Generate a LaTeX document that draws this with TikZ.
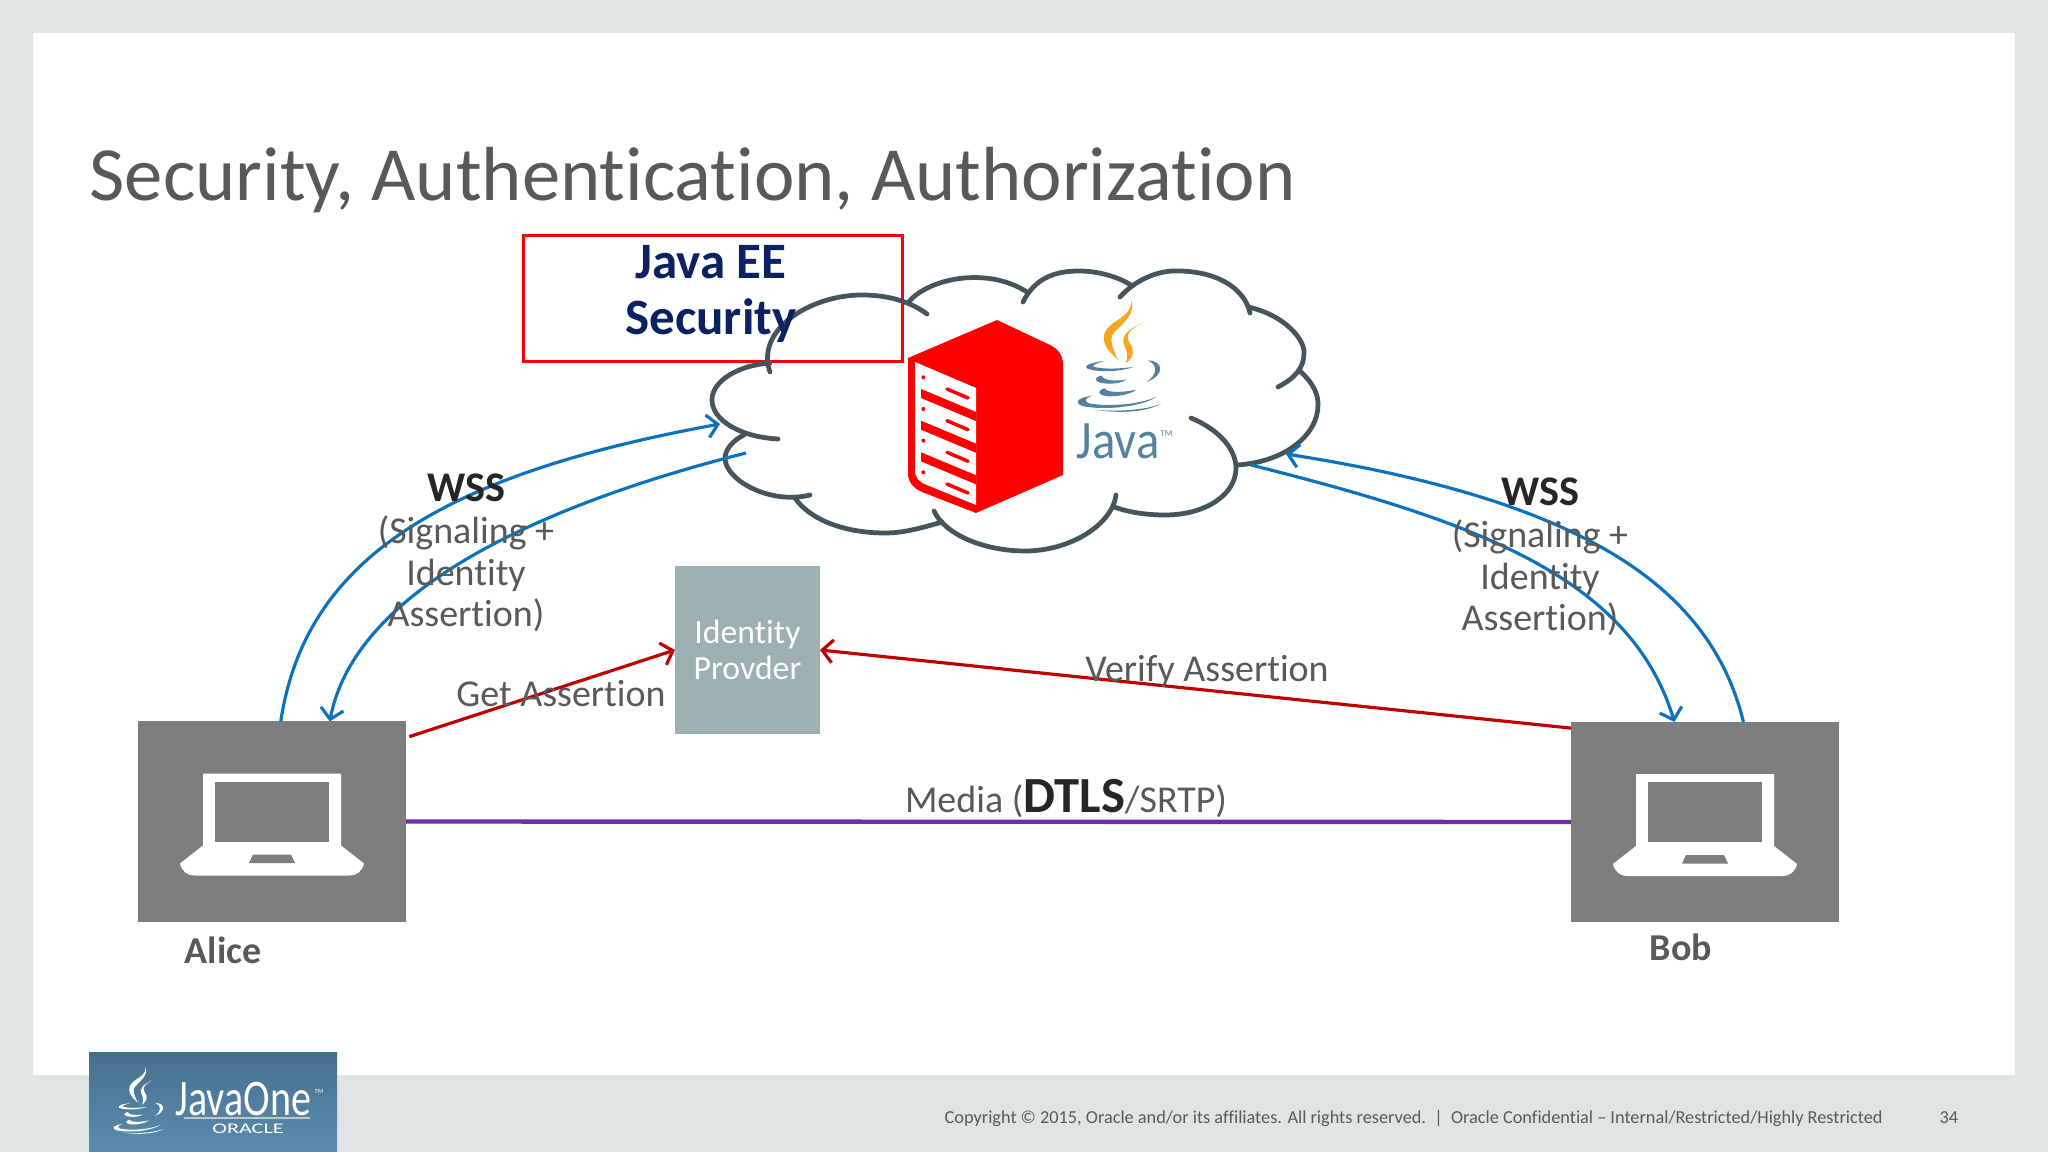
\documentclass[tikz,border=0pt]{standalone}
\usepackage{fontspec}
\setmainfont{Carlito}[Ligatures=NoCommon]
\usetikzlibrary{arrows.meta}
\definecolor{slideBg}{HTML}{DFE5E4}
\definecolor{boxGrey}{HTML}{7F7E7F}
\definecolor{idpGrey}{HTML}{9FB0B2}
\definecolor{cloudGrey}{HTML}{46555C}
\definecolor{wssBlue}{HTML}{0B72BB}
\definecolor{asrtRed}{HTML}{C00000}
\definecolor{mediaPurple}{HTML}{7030A0}
\definecolor{textGrey}{HTML}{595959}
\definecolor{navyT}{HTML}{0B2161}
\definecolor{javaBlue}{HTML}{5382A1}
\definecolor{javaOrange}{HTML}{F8A51E}
\definecolor{logoTop}{HTML}{466F8C}
\definecolor{logoBot}{HTML}{5B8DAF}
\tikzstyle{host}=[rectangle, fill=boxGrey, minimum width=2.68cm, minimum height=2.0cm, inner sep=0pt, outer sep=0pt]
\tikzstyle{cloudLine}=[draw=cloudGrey, line width=1.35pt, line cap=round]
\tikzstyle{wss}=[draw=wssBlue, line width=0.9pt, -{Straight Barb[length=3pt,width=6.5pt]}]
\tikzstyle{asrt}=[draw=asrtRed, line width=0.9pt, -{Straight Barb[length=3pt,width=6.5pt]}]
\tikzstyle{media}=[draw=mediaPurple, line width=1.25pt]
\tikzstyle{lbl}=[text=textGrey, align=center, inner sep=0pt, font=\fontsize{10.8pt}{11.8pt}\selectfont]
\tikzstyle{boldLbl}=[lbl, font=\fontsize{10.8pt}{11.8pt}\selectfont\bfseries]
% laptop drawn round a host node
\newcommand{\laptop}[1]{
  \begin{scope}[shift={(#1)}]
    \fill[white] (-69,-48) -- (69,-48) -- (69,24) -- (92,42) .. controls (90,50) and (85,54) .. (77,54) -- (-77,54) .. controls (-85,54) and (-90,50) .. (-92,42) -- (-69,24) -- cycle;
    \fill[boxGrey] (-57,-40) rectangle (57,20);
    \fill[boxGrey] (-19,33) -- (19,33) -- (23,41.5) -- (-23,41.5) -- cycle;
  \end{scope}
}
% cup and flames, local units are the ones of the big mark
\newcommand{\javamark}[4]{
  \begin{scope}[shift={(#1)}, scale=#2, shift={(-239,-67)}, x=0.00333cm, y=-0.00333cm]
    \fill[#4] (755,30) .. controls (775,90) and (690,120) .. (695,150) .. controls (697,170) and (705,195) .. (718,212) .. controls (685,185) and (665,160) .. (675,130) .. controls (690,90) and (760,85) .. (755,30) -- cycle;
    \fill[#4] (790,98) .. controls (745,120) and (720,140) .. (735,170) .. controls (745,190) and (745,205) .. (738,222) .. controls (765,200) and (765,180) .. (750,160) .. controls (735,135) and (750,120) .. (790,98) -- cycle;
    \fill[#3] (675,214) .. controls (625,220) and (610,230) .. (625,238) .. controls (660,250) and (730,245) .. (762,232) .. controls (720,238) and (660,240) .. (640,230) .. controls (640,225) and (655,220) .. (675,214) -- cycle;
    \fill[#3] (805,213) .. controls (850,212) and (860,255) .. (800,278) .. controls (835,255) and (835,225) .. (805,213) -- cycle;
    \fill[#3] (665,258) .. controls (640,265) and (645,275) .. (665,280) .. controls (690,285) and (725,282) .. (740,270) .. controls (715,275) and (670,275) .. (665,258) -- cycle;
    \fill[#3] (675,296) .. controls (650,305) and (655,315) .. (680,320) .. controls (710,322) and (755,315) .. (770,300) .. controls (740,308) and (680,312) .. (675,296) -- cycle;
    \fill[#3] (640,318) .. controls (585,325) and (580,345) .. (620,352) .. controls (690,362) and (790,350) .. (830,322) .. controls (780,345) and (690,352) .. (630,342) .. controls (610,335) and (615,325) .. (640,318) -- cycle;
    \fill[#3] (640,360) .. controls (710,372) and (800,370) .. (845,342) .. controls (800,362) and (710,368) .. (640,360) -- cycle;
  \end{scope}
}
\begin{document}
\begin{tikzpicture}[x=0.01cm, y=-0.01cm]
      \fill[slideBg] (0,0) rectangle (2048,1152);
      \fill[white] (33,33) rectangle (2015,1075);
      \node(title) [text=textGrey, anchor=west, inner sep=0pt, font=\fontsize{21.8pt}{24pt}\selectfont] at (89,180){Security, Authentication, Authorization};

      % red box and cloud
      \node(eeBox) [draw=red, line width=0.8pt, minimum width=3.79cm, minimum height=1.26cm, inner sep=0pt] at (713,298.5){};
      \draw[cloudLine] (770,372) .. controls (755,330) and (810,295) .. (862,295) .. controls (885,295) and (908,300) .. (927,314);
      \draw[cloudLine] (908,303) .. controls (925,280) and (985,265) .. (1027,292);
      \draw[cloudLine] (1023,302) .. controls (1035,278) and (1055,271) .. (1079,271) .. controls (1100,271) and (1120,278) .. (1131,285);
      \draw[cloudLine] (1120,297) .. controls (1140,275) and (1165,270) .. (1180,271) .. controls (1220,272) and (1245,290) .. (1250,313);
      \draw[cloudLine] (1248,307) .. controls (1285,315) and (1305,340) .. (1304,353) .. controls (1304,368) and (1295,378) .. (1278,387);
      \draw[cloudLine] (1299,370) .. controls (1315,385) and (1318,395) .. (1318,405) .. controls (1318,435) and (1285,462) .. (1237,465);
      \draw[cloudLine] (1191,418) .. controls (1220,430) and (1236,450) .. (1236,468) .. controls (1236,495) and (1205,515) .. (1165,515) .. controls (1145,515) and (1128,512) .. (1114,507);
      \draw[cloudLine] (1116,495) .. controls (1112,525) and (1070,551) .. (1025,551) .. controls (985,551) and (945,535) .. (934,511);
      \draw[cloudLine] (942,522) .. controls (915,530) and (900,533) .. (885,533) .. controls (845,533) and (810,520) .. (795,498);
      \draw[cloudLine] (810,495) .. controls (770,505) and (725,480) .. (725,458) .. controls (725,450) and (733,440) .. (744,435);
      \draw[cloudLine] (778,439) .. controls (740,437) and (712,420) .. (712,400) .. controls (712,380) and (740,365) .. (770,363);

      % server
      \fill[red] (997,320) -- (1050,345) .. controls (1058,349) and (1063,355) .. (1063,365) -- (1063,475) -- (976,513) -- (922,492) .. controls (913,488) and (908,482) .. (908,473) -- (908,358) -- cycle;
      \fill[white] (915,362) -- (976,388) -- (976,505) -- (927,485) .. controls (919,482) and (915,478) .. (915,470) -- cycle;
      \foreach \y in {0,31.7,63.3} {
        \fill[red] (921,389+\y) -- (976,412+\y) -- (976,421+\y) -- (921,398+\y) -- cycle;
      }
      \foreach \y in {0,31.7,63.3,95} {
        \fill[red] (923.3,377.3+\y) circle (2);
        \draw[red, line width=1pt, line cap=round] (947,389+\y) -- (968,398+\y);
      }

      % java mark
      \javamark{1119,356.7}{1}{javaBlue}{javaOrange}
      \node(javaWord) [text=javaBlue, anchor=base west, inner sep=0pt, xscale=0.9, font=\fontsize{15.4pt}{18pt}\selectfont] at (1076,459){Java};
      \node(javaTm) [text=javaBlue, anchor=west, inner sep=0pt, font=\fontsize{2.5pt}{3pt}\selectfont] at (1160,434){TM};

      % hosts
      \node(alice) [host] at (272,821.5){};
      \node(bob) [host] at (1705,822){};
      \laptop{272,821.5}
      \laptop{1705,822}
      \node(idp) [rectangle, fill=idpGrey, minimum width=1.45cm, minimum height=1.68cm, inner sep=0pt, outer sep=0pt, text=white, align=center, font=\fontsize{9.6pt}{10.4pt}\selectfont] at (747.5,650){Identity\\Provder};

      \coordinate(cloudL1) at (720,424);
      \coordinate(cloudL2) at (746,453);
      \coordinate(cloudR1) at (1286,454);
      \coordinate(cloudR2) at (1251,465);

      \draw[wss] (alice.85) .. controls (305,560) and (440,475) .. (cloudL1);
      \draw[wss] (cloudL2) .. controls (540,505) and (355,590) .. (alice.60);
      \draw[wss] (bob.69) .. controls (1710,585) and (1580,500) .. (cloudR1);
      \draw[wss] (cloudR2) .. controls (1470,520) and (1630,575) .. (bob.107);
      \draw[asrt, shorten <=1pt] (alice.32) to (idp.west);
      \draw[asrt] (bob.145) to (idp.east);
      \draw[media] (alice.east) to (bob.west);

      % labels
      \node(eeText) [text=navyT, align=center, inner sep=0pt, font=\fontsize{14.5pt}{16pt}\selectfont\bfseries] at (711,294){Java EE\\Security};
      \node(wssL) [boldLbl, text=black!85, font=\fontsize{12pt}{14pt}\selectfont\bfseries] at (466,488){WSS};
      \node(wssLtxt) [lbl] at (466,574){(Signaling +\\Identity\\Assertion)};
      \node(wssR) [boldLbl, text=black!85, font=\fontsize{12pt}{14pt}\selectfont\bfseries] at (1540,492){WSS};
      \node(wssRtxt) [lbl] at (1540,578){(Signaling +\\Identity\\Assertion)};
      \node(getA) [lbl] at (561,694){Get Assertion};
      \node(verA) [lbl] at (1207,671){Verify Assertion};
      \node(mediaT) [lbl] at (1066,799){Media ({\fontsize{14.4pt}{16pt}\selectfont\bfseries\color{black!85}DTLS}/SRTP)};
      \node(aliceT) [boldLbl] at (223,950){Alice};
      \node(bobT) [boldLbl] at (1681,947){Bob};

      % footer
      \node(copyT) [text=textGrey, anchor=west, inner sep=0pt, font=\fontsize{5.2pt}{6pt}\selectfont] at (944,1118){Copyright © 2015, Oracle and/or its affiliates. All rights reserved.~~|~~Oracle Confidential – Internal/Restricted/Highly Restricted};
      \node(pageT) [text=textGrey, anchor=west, inner sep=0pt, font=\fontsize{5.2pt}{6pt}\selectfont] at (1939,1118){34};
      \shade[top color=logoTop, bottom color=logoBot] (89,1052) rectangle (337,1152);
      \javamark{138.3,1100.7}{0.6}{white}{white}
      \node(oneT) [text=white, anchor=base west, inner sep=0pt, xscale=0.78, font=\fontsize{14.6pt}{16pt}\selectfont] at (175,1115){JavaOne};
      \node(oneTm) [text=white, anchor=west, inner sep=0pt, font=\fontsize{1.8pt}{2pt}\selectfont] at (314,1091){TM};
      \draw[idpGrey!70!white, line width=0.3pt] (184,1118) -- (310,1118);
      \node(oracleT) [text=white, inner sep=0pt, xscale=1.5, font=\fontsize{4.2pt}{5pt}\selectfont] at (248,1129){ORACLE};
\end{tikzpicture}
\end{document}
